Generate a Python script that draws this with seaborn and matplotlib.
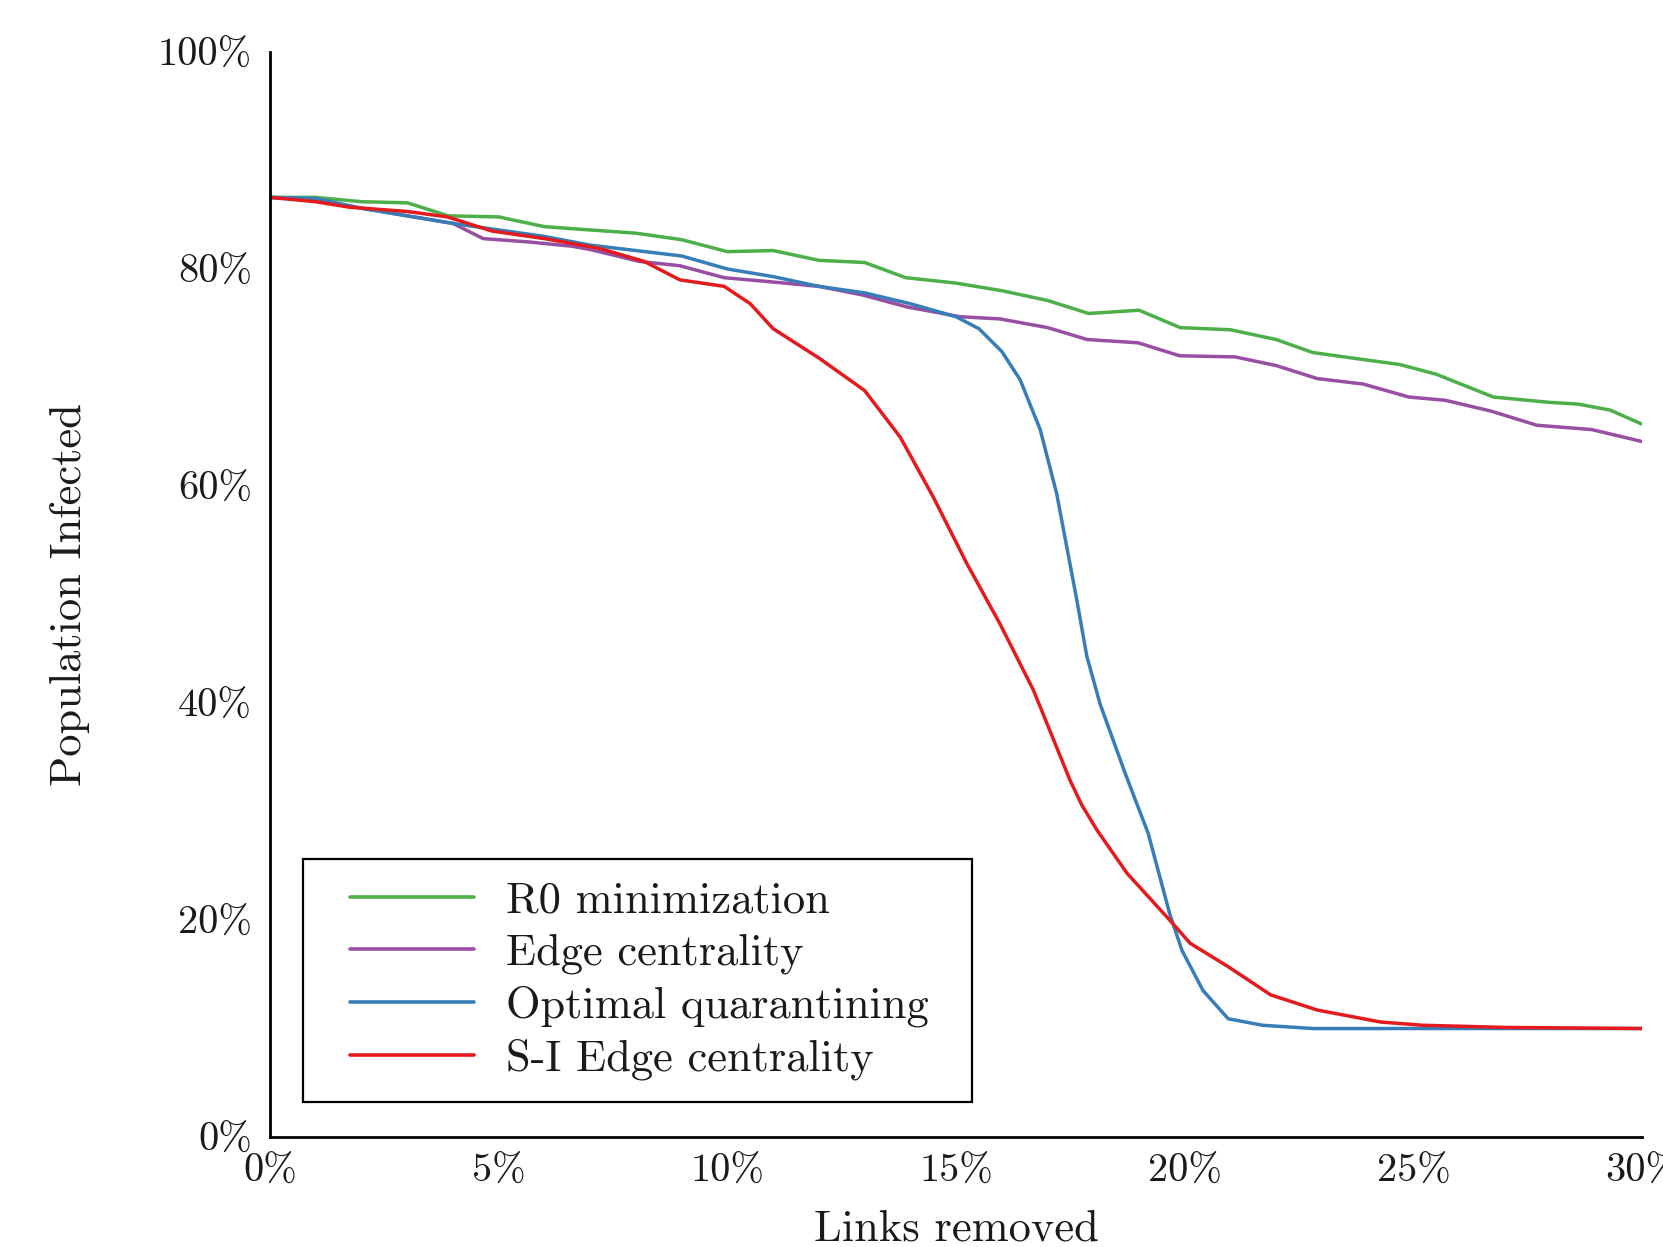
import matplotlib
matplotlib.use("Agg")
import matplotlib.pyplot as plt
from matplotlib.legend_handler import HandlerLine2D
from matplotlib.lines import Line2D
import seaborn as sns
import pandas as pd

# ---------------- data (percent) ----------------
x_r0 = [0, 1, 2, 3, 3.9, 5, 6, 7, 8, 9, 10, 11, 12, 13, 13.9, 15, 16, 17, 17.9, 19,
        19.9, 21, 22, 22.8, 24, 24.7, 25.5, 26.75, 28, 28.6, 29.3, 30]
y_r0 = [86.6, 86.6, 86.2, 86.1, 84.9, 84.8, 83.9, 83.6, 83.3, 82.7, 81.6, 81.7, 80.8, 80.6,
        79.2, 78.7, 78.0, 77.1, 75.9, 76.2, 74.6, 74.4, 73.5, 72.3, 71.6, 71.2, 70.3, 68.2,
        67.7, 67.55, 67.0, 65.7]

x_edge = [0, 1, 2, 3, 4, 4.66, 5.64, 6.6, 7, 8.07, 8.96, 9.93, 11, 11.5, 12, 12.96, 13.93,
          15.09, 15.96, 17, 17.87, 18.98, 19.89, 21.1, 22, 22.9, 23.9, 24.9, 25.7, 26.7,
          27.7, 28.9, 30]
y_edge = [86.6, 86.4, 85.6, 84.9, 84.2, 82.8, 82.5, 82.1, 81.8, 80.7, 80.3, 79.2, 78.8,
          78.6, 78.4, 77.6, 76.5, 75.6, 75.4, 74.6, 73.5, 73.2, 72.0, 71.9, 71.1, 69.9,
          69.4, 68.2, 67.9, 66.9, 65.6, 65.2, 64.1]

x_opt = [0, 1, 2, 3, 4, 5, 6, 7, 8, 9, 10, 11, 12, 13, 14, 15, 15.5, 16, 16.4, 16.84,
         17.2, 17.42, 17.64, 17.86, 18.15, 18.7, 19.2, 19.67, 19.94, 20.4, 20.95, 21.7,
         22.8, 30]
y_opt = [86.6, 86.5, 85.6, 84.9, 84.2, 83.6, 83.0, 82.2, 81.7, 81.2, 80.0, 79.3, 78.4,
         77.8, 76.8, 75.6, 74.5, 72.4, 69.8, 65.2, 59.3, 54.4, 49.5, 44.3, 39.9, 33.5,
         28.0, 20.6, 17.2, 13.5, 10.9, 10.3, 10.0, 10.0]

x_si = [0, 1, 1.73, 3, 3.88, 4.85, 6, 7.2, 8.18, 8.96, 9.93, 10.5, 11, 12, 13, 13.78,
        14.5, 15.23, 15.96, 16.69, 17.49, 17.75, 18.08, 18.74, 19.67, 20.12, 20.95, 21.88,
        22.9, 24.28, 25.2, 27, 30]
y_si = [86.6, 86.2, 85.7, 85.3, 84.8, 83.5, 82.8, 81.9, 80.7, 79.0, 78.4, 76.8, 74.5,
        71.8, 68.8, 64.5, 59.0, 52.9, 47.3, 41.2, 32.9, 30.6, 28.3, 24.3, 20.0, 17.85,
        15.7, 13.1, 11.7, 10.6, 10.3, 10.1, 10.0]

series_names = ["R0 minimization", "Edge centrality", "Optimal quarantining", "S-I Edge centrality"]
series_colors = ["#4daf4a", "#984ea3", "#377eb8", "#e41a1c"]

x_ticks = [0, 5, 10, 15, 20, 25, 30]
x_ticklabels = ["0%", "5%", "10%", "15%", "20%", "25%", "30%"]
y_ticks = [0, 20, 40, 60, 80, 100]
y_ticklabels = ["0%", "20%", "40%", "60%", "80%", "100%"]

# ---------------- build long table ----------------
frames = []
for name, xs, ys in zip(series_names, [x_r0, x_edge, x_opt, x_si], [y_r0, y_edge, y_opt, y_si]):
    frames.append(pd.DataFrame({"x": xs, "y": ys, "method": name}))
df = pd.concat(frames, ignore_index=True)

# ---------------- style ----------------
sns.set_style("white")
plt.rcParams["font.family"] = ["cmr10", "DejaVu Serif"]
plt.rcParams["mathtext.fontset"] = "cm"
plt.rcParams["axes.unicode_minus"] = False
plt.rcParams["axes.formatter.use_mathtext"] = True

fig = plt.figure(figsize=(16.63, 12.47), dpi=100)
ax = fig.add_axes([0.1624, 0.0882, 0.8250, 0.8701])

sns.lineplot(data=df, x="x", y="y", hue="method", hue_order=series_names,
             palette=series_colors, linewidth=2.5, ax=ax, sort=False, estimator=None,
             legend=False)

ax.set_xlim(0, 30)
ax.set_ylim(0, 100)
ax.set_xticks(x_ticks, x_ticklabels)
ax.set_yticks(y_ticks, y_ticklabels)

for s in ["top", "right"]:
    ax.spines[s].set_visible(False)
for s in ["left", "bottom"]:
    ax.spines[s].set_color("black")
    ax.spines[s].set_linewidth(2.0)
    ax.spines[s].set_zorder(5)

ax.tick_params(axis="both", direction="in", length=11, width=1.5, color="#c8c8c8",
               labelsize=29, labelcolor="#1a1a1a")
ax.tick_params(axis="x", pad=12)
ax.tick_params(axis="y", pad=13)

ax.set_xlabel("Links removed", fontsize=32, color="#1a1a1a")
ax.set_ylabel("Population Infected", fontsize=32, color="#1a1a1a")
ax.xaxis.set_label_coords(0.5, -0.067)
ax.xaxis.label.set_va("top")
ax.yaxis.set_label_coords(-0.131, 0.5)

handles = [Line2D([], [], color=c, linewidth=2.6) for c in series_colors]
leg = ax.legend(handles, series_names, loc="lower left",
                bbox_to_anchor=(0.024, 0.032, 0.4876, 0.2), mode="expand",
                borderaxespad=0, fontsize=32, frameon=True, fancybox=False,
                edgecolor="black", framealpha=1, borderpad=0.5, labelspacing=0.264,
                handlelength=3.35, handletextpad=0.72,
                handler_map={Line2D: HandlerLine2D(xpad=0.56)})
leg.get_frame().set_linewidth(1.6)
for t in leg.get_texts():
    t.set_color("#1a1a1a")

fig.savefig("out.png", dpi=100, facecolor="white")
